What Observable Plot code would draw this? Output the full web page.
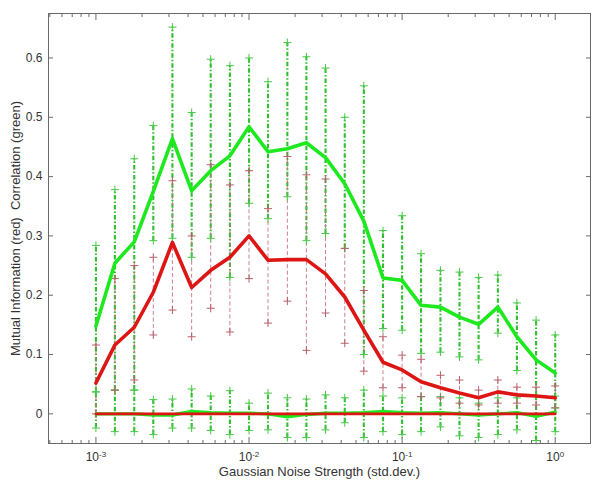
<!DOCTYPE html>
<html><head><meta charset="utf-8">
<script src="https://cdn.jsdelivr.net/npm/d3@7"></script>
<script src="https://cdn.jsdelivr.net/npm/@observablehq/plot@0.6"></script>
<style>body{margin:0;background:#fff;} #chart svg{display:block;}</style>
</head><body><div id="chart"></div>
<script>
// Noise strength (std.dev.), 8 points per decade
const noise = [0.001,0.00133,0.00178,0.00237,0.00316,0.00422,0.00562,0.0075,0.01,0.0133,0.0178,0.0237,0.0316,0.0422,0.0562,0.075,0.1,0.133,0.178,0.237,0.316,0.422,0.562,0.75,1.0];
// Correlation (green): mean and error-bar ends
const corrMean = [0.148,0.254,0.29,0.375,0.464,0.376,0.41,0.435,0.484,0.442,0.447,0.457,0.432,0.388,0.325,0.229,0.225,0.183,0.18,0.163,0.151,0.18,0.13,0.091,0.069];
const corrHi   = [0.284,0.378,0.43,0.486,0.652,0.508,0.598,0.587,0.6,0.56,0.626,0.602,0.583,0.5,0.553,0.309,0.334,0.27,0.242,0.239,0.23,0.234,0.187,0.158,0.133];
const corrLo   = [0.037,0.04,0.04,0.292,0.296,0.264,0.296,0.23,0.355,0.329,0.366,0.292,0.304,0.279,0.1,0.144,0.141,0.102,0.104,0.096,0.091,0.136,0.073,0.03,0.01];
// Mutual information (red): mean and error-bar ends
const miMean = [0.052,0.116,0.146,0.205,0.289,0.213,0.242,0.264,0.3,0.259,0.26,0.26,0.236,0.197,0.141,0.087,0.074,0.054,0.044,0.035,0.027,0.037,0.032,0.03,0.027];
const miHi   = [0.116,0.228,0.25,0.264,0.393,0.3,0.42,0.386,0.41,0.346,0.434,0.403,0.396,0.279,0.208,0.13,0.099,0.092,0.065,0.057,0.04,0.057,0.045,0.045,0.047];
const miLo   = [0.0,0.04,0.057,0.133,0.175,0.13,0.178,0.138,0.228,0.153,0.19,0.107,0.17,0.119,0.072,0.044,0.044,0.029,0.027,0.018,0.015,0.018,0.018,0.015,0.01];
// Control (baseline) curves near zero
const corrBase   = [0,0,0,-0.002,-0.002,0.004,0.002,0.001,0.001,0,-0.005,-0.001,0.001,0.001,0.002,0.004,0.002,0.001,0.002,0,-0.002,0,0.002,-0.004,0.003];
const corrBaseHi = [0.037,0.04,0.04,0.024,0.025,0.042,0.03,0.039,0.018,0.035,0.027,0.025,0.032,0.027,0.04,0.03,0.027,0.029,0.029,0.027,0.018,0.027,0.027,0.03,0.03];
const corrBaseLo = [-0.024,-0.03,-0.03,-0.035,-0.024,-0.024,-0.028,-0.035,-0.028,-0.027,-0.04,-0.04,-0.027,-0.015,-0.04,-0.03,-0.035,-0.03,-0.022,-0.037,-0.04,-0.035,-0.027,-0.045,-0.03];
const miBase = [0,0,0,0,0,0,0,0,0,0,0,0,0,0,0,0,0,0,0,0,0,0,0,0,0];
// Axis ticks
const yTicks = [0,0.1,0.2,0.3,0.4,0.5,0.6];
const xMajor = [0.001,0.01,0.1,1];
const xMinor = [0.0005,0.0006,0.0007,0.0008,0.0009,0.002,0.003,0.004,0.005,0.006,0.007,0.008,0.009,0.02,0.03,0.04,0.05,0.06,0.07,0.08,0.09,0.2,0.3,0.4,0.5,0.6,0.7,0.8,0.9];
const xLabel = "Gaussian Noise Strength (std.dev.)";
const yLabel = "Mutual Information (red)\u00a0 Correlation (green)";

const rows = noise.map((x, i) => ({
  x, corr: corrMean[i], corrHi: corrHi[i], corrLo: corrLo[i],
  mi: miMean[i], miHi: miHi[i], miLo: miLo[i],
  cb: corrBase[i], cbHi: corrBaseHi[i], cbLo: corrBaseLo[i], mb: miBase[i]
}));

const plusSym = {draw(ctx, size) {
  const r = Math.sqrt(size / Math.PI);
  ctx.moveTo(-r, 0); ctx.lineTo(r, 0); ctx.moveTo(0, -r); ctx.lineTo(0, r);
}};

const GREEN = "#1ee81e", RED = "#dd1515", GBAR = "#2fbf2f", RBAR = "#c9707f", AX = "#6a6a6a";
const gBar = {stroke: GBAR, strokeWidth: 2.1, strokeDasharray: "4.5,2,1.5,2"};
const rBar = {stroke: RBAR, strokeWidth: 0.9, strokeDasharray: "4,2.5"};
const gPlus = {symbol: plusSym, r: 4, stroke: "#45c845", fill: "none", strokeWidth: 1};
const rPlus = {symbol: plusSym, r: 4, stroke: "#b8606c", fill: "none", strokeWidth: 1};

const chart = Plot.plot({
  width: 595, height: 483,
  marginLeft: 48, marginRight: 5, marginTop: 13, marginBottom: 40,
  style: {fontFamily: "'Liberation Sans', Arial, sans-serif", fontSize: "12px", background: "#fff", color: "#333"},
  x: {type: "log", domain: [4.9e-4, 1.7]},
  y: {domain: [-0.05, 0.675]},
  marks: [
    Plot.ruleX(rows, {x: "x", y1: "corrLo", y2: "corrHi", ...gBar}),
    Plot.ruleX(rows, {x: "x", y1: "cbLo", y2: "cbHi", ...gBar}),
    Plot.ruleX(rows, {x: "x", y1: "miLo", y2: "miHi", ...rBar}),
    Plot.dot(rows, {x: "x", y: "corrHi", ...gPlus}),
    Plot.dot(rows, {x: "x", y: "corrLo", ...gPlus}),
    Plot.dot(rows, {x: "x", y: "cbHi", ...gPlus}),
    Plot.dot(rows, {x: "x", y: "cbLo", ...gPlus}),
    Plot.dot(rows, {x: "x", y: "miHi", ...rPlus}),
    Plot.dot(rows, {x: "x", y: "miLo", ...rPlus}),
    Plot.line(rows, {x: "x", y: "corr", stroke: GREEN, strokeWidth: 3.6}),
    Plot.line(rows, {x: "x", y: "mi", stroke: RED, strokeWidth: 3.6}),
    Plot.line(rows, {x: "x", y: "cb", stroke: GREEN, strokeWidth: 3.4}),
    Plot.line(rows, {x: "x", y: "mb", stroke: RED, strokeWidth: 2.6}),
    Plot.frame({stroke: AX}),
    // inward ticks
    Plot.axisY({anchor: "left", ticks: yTicks, tickSize: -5, text: null, stroke: AX, label: null}),
    Plot.axisY({anchor: "right", ticks: yTicks, tickSize: -5, text: null, stroke: AX, label: null}),
    Plot.axisX({anchor: "bottom", ticks: xMajor, tickSize: -6, text: null, stroke: AX, label: null}),
    Plot.axisX({anchor: "top", ticks: xMajor, tickSize: -6, text: null, stroke: AX, label: null}),
    Plot.axisX({anchor: "bottom", ticks: xMinor, tickSize: -3, text: null, stroke: AX, label: null}),
    Plot.axisX({anchor: "top", ticks: xMinor, tickSize: -3, text: null, stroke: AX, label: null}),
    // labels
    Plot.axisY({anchor: "left", ticks: yTicks, tickSize: 0, tickPadding: 6, fontSize: 12,
      tickFormat: d => String(d), label: yLabel, labelAnchor: "center", labelOffset: 38, labelArrow: "none"}),
    Plot.axisX({anchor: "bottom", ticks: xMajor, tickSize: 0, tickPadding: 9, fontSize: 12,
      tickFormat: d => "10^" + Math.round(Math.log10(d)), label: xLabel, labelAnchor: "center", labelOffset: 32, labelArrow: "none"})
  ]
});

// render superscript exponents in x tick labels
d3.select(chart).selectAll('g[aria-label="x-axis tick label"] text').each(function() {
  const t = d3.select(this);
  const s = t.text();
  if (!s.includes("^")) return;
  const [base, exp] = s.split("^");
  t.text(null);
  t.append("tspan").text(base);
  t.append("tspan").attr("dy", "-0.5em").attr("font-size", "8px").text(exp);
});
d3.select(chart).selectAll('g[aria-label="y-axis label"] text, g[aria-label="x-axis label"] text').attr("font-size", "13px");

document.getElementById("chart").appendChild(chart);
</script>
</body></html>
